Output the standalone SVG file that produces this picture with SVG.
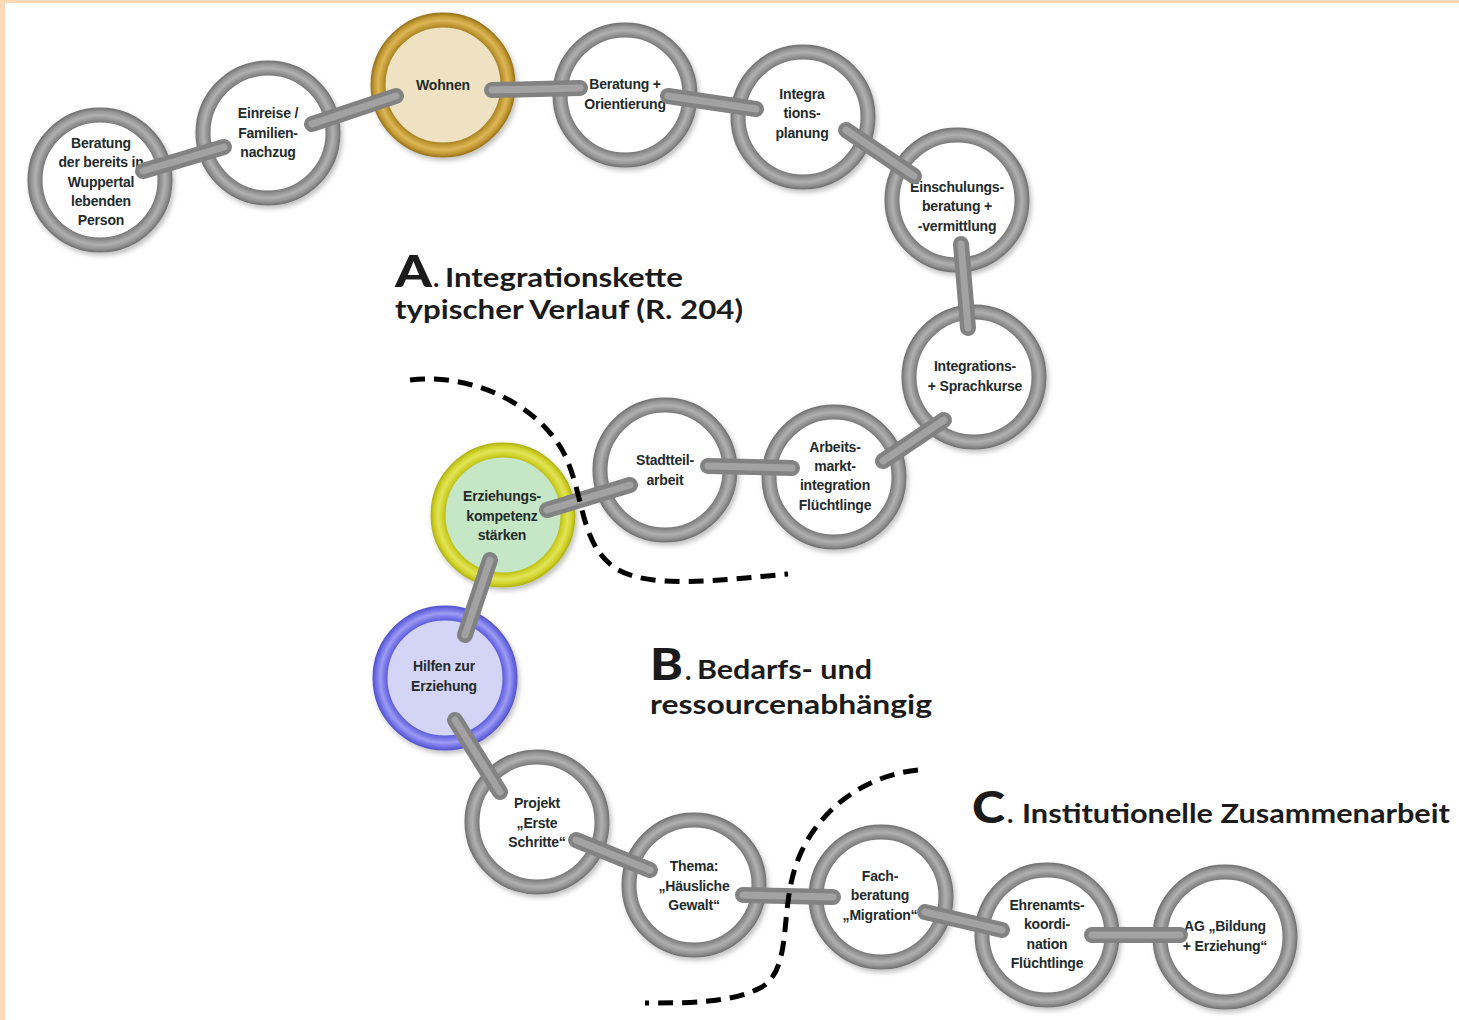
<svg xmlns="http://www.w3.org/2000/svg" width="1459" height="1020" viewBox="0 0 1459 1020">
<defs>
  <radialGradient id="gGray" cx="0.5" cy="0.5" r="0.6">
    <stop offset="0.72" stop-color="#6c6c6c"/>
    <stop offset="0.77" stop-color="#8c8c8c"/>
    <stop offset="0.83" stop-color="#b0b0b0"/>
    <stop offset="0.88" stop-color="#979797"/>
    <stop offset="0.93" stop-color="#6e6e6e"/>
  </radialGradient>
  <radialGradient id="gGold" cx="0.5" cy="0.5" r="0.6">
    <stop offset="0.72" stop-color="#96731c"/>
    <stop offset="0.77" stop-color="#bf9630"/>
    <stop offset="0.83" stop-color="#dcb757"/>
    <stop offset="0.88" stop-color="#c59c36"/>
    <stop offset="0.93" stop-color="#94711a"/>
  </radialGradient>
  <radialGradient id="gYellow" cx="0.5" cy="0.5" r="0.6">
    <stop offset="0.72" stop-color="#b0b214"/>
    <stop offset="0.77" stop-color="#cfd126"/>
    <stop offset="0.83" stop-color="#e2e35a"/>
    <stop offset="0.88" stop-color="#d2d42a"/>
    <stop offset="0.93" stop-color="#adaf12"/>
  </radialGradient>
  <radialGradient id="gBlue" cx="0.5" cy="0.5" r="0.6">
    <stop offset="0.72" stop-color="#5252cf"/>
    <stop offset="0.77" stop-color="#7070e6"/>
    <stop offset="0.83" stop-color="#9c9cf3"/>
    <stop offset="0.88" stop-color="#7474e8"/>
    <stop offset="0.93" stop-color="#5050cc"/>
  </radialGradient>
  <filter id="sh" x="-20%" y="-20%" width="140%" height="140%">
    <feDropShadow dx="2" dy="3" stdDeviation="2.5" flood-color="#000" flood-opacity="0.25"/>
  </filter>
  <style>
    .ring { stroke-width: 15; filter: url(#sh); }
    .gray { fill: #ffffff; stroke: url(#gGray); }
    .gold { fill: #efe2c3; stroke: url(#gGold); }
    .yellow { fill: #c6e7c5; stroke: url(#gYellow); }
    .blue { fill: #d4d4f7; stroke: url(#gBlue); }
    .lbl { font-family: "Liberation Sans", Arial, sans-serif; font-weight: bold; font-size: 14px; fill: #232a2a; text-anchor: middle; letter-spacing: -0.2px; }
    .bar { fill: none; stroke: #828282; stroke-width: 16; stroke-linecap: round; }
    .barhi { fill: none; stroke: #a2a2a2; stroke-width: 7; stroke-linecap: round; }
    .sep { fill: none; stroke: #000; stroke-width: 5; stroke-dasharray: 15 9; }
    .big { font-family: Lato, "Open Sans", sans-serif; font-weight: 900; font-size: 44px; fill: #1b1b1b; }
    .ttl { font-family: Lato, "Open Sans", sans-serif; font-weight: bold; font-size: 27px; fill: #1b1b1b; }
  </style>
</defs>
<rect x="0" y="0" width="1459" height="1020" fill="#ffffff"/>
<rect x="0" y="0" width="1459" height="3" fill="#fdd8b6"/>
<rect x="0" y="0" width="5" height="1020" fill="#fdd8b6"/>

<g id="nodes">
  <g id="n1"><circle class="ring gray" cx="100" cy="180" r="65"/>
    <text class="lbl" x="101" y="148"><tspan x="101">Beratung</tspan><tspan x="101" dy="19.3">der bereits in</tspan><tspan x="101" dy="19.3">Wuppertal</tspan><tspan x="101" dy="19.3">lebenden</tspan><tspan x="101" dy="19.3">Person</tspan></text></g>
  <g id="n2"><circle class="ring gray" cx="268" cy="133" r="65"/>
    <text class="lbl" x="268" y="118"><tspan x="268">Einreise /</tspan><tspan x="268" dy="19.5">Familien-</tspan><tspan x="268" dy="19.5">nachzug</tspan></text></g>
  <g id="n3"><circle class="ring gold" cx="443" cy="85" r="65"/>
    <text class="lbl" x="443" y="90">Wohnen</text></g>
  <g id="n4"><circle class="ring gray" cx="625" cy="95" r="65"/>
    <text class="lbl" x="625" y="89"><tspan x="625">Beratung +</tspan><tspan x="625" dy="19.5">Orientierung</tspan></text></g>
  <g id="n5"><circle class="ring gray" cx="803" cy="117" r="65"/>
    <text class="lbl" x="802" y="99"><tspan x="802">Integra</tspan><tspan x="802" dy="19.3">tions-</tspan><tspan x="802" dy="19.3">planung</tspan></text></g>
  <g id="n6"><circle class="ring gray" cx="957" cy="200" r="65"/>
    <text class="lbl" x="957" y="192"><tspan x="957">Einschulungs-</tspan><tspan x="957" dy="19.3">beratung +</tspan><tspan x="957" dy="19.3">-vermittlung</tspan></text></g>
  <g id="n7"><circle class="ring gray" cx="974" cy="377" r="65"/>
    <text class="lbl" x="975" y="371"><tspan x="975">Integrations-</tspan><tspan x="975" dy="19.5">+ Sprachkurse</tspan></text></g>
  <g id="n8"><circle class="ring gray" cx="834" cy="477" r="65"/>
    <text class="lbl" x="835" y="452"><tspan x="835">Arbeits-</tspan><tspan x="835" dy="19.2">markt-</tspan><tspan x="835" dy="19.2">integration</tspan><tspan x="835" dy="19.2">Flüchtlinge</tspan></text></g>
  <g id="n9"><circle class="ring gray" cx="665" cy="470" r="65"/>
    <text class="lbl" x="665" y="465"><tspan x="665">Stadtteil-</tspan><tspan x="665" dy="19.5">arbeit</tspan></text></g>
  <g id="n10"><circle class="ring yellow" cx="503" cy="515" r="65"/>
    <text class="lbl" x="502" y="501"><tspan x="502">Erziehungs-</tspan><tspan x="502" dy="19.5">kompetenz</tspan><tspan x="502" dy="19.5">stärken</tspan></text></g>
  <g id="n11"><circle class="ring blue" cx="445" cy="678" r="65"/>
    <text class="lbl" x="444" y="671"><tspan x="444">Hilfen zur</tspan><tspan x="444" dy="19.5">Erziehung</tspan></text></g>
  <g id="n12"><circle class="ring gray" cx="537" cy="822" r="65"/>
    <text class="lbl" x="537" y="808"><tspan x="537">Projekt</tspan><tspan x="537" dy="19.5">„Erste</tspan><tspan x="537" dy="19.5">Schritte“</tspan></text></g>
  <g id="n13"><circle class="ring gray" cx="694" cy="885" r="65"/>
    <text class="lbl" x="694" y="871"><tspan x="694">Thema:</tspan><tspan x="694" dy="19.5">„Häusliche</tspan><tspan x="694" dy="19.5">Gewalt“</tspan></text></g>
  <g id="n14"><circle class="ring gray" cx="881" cy="897" r="65"/>
    <text class="lbl" x="880" y="881"><tspan x="880">Fach-</tspan><tspan x="880" dy="19.3">beratung</tspan><tspan x="880" dy="19.3">„Migration“</tspan></text></g>
  <g id="n15"><circle class="ring gray" cx="1047" cy="935" r="65"/>
    <text class="lbl" x="1047" y="910"><tspan x="1047">Ehrenamts-</tspan><tspan x="1047" dy="19.3">koordi-</tspan><tspan x="1047" dy="19.3">nation</tspan><tspan x="1047" dy="19.3">Flüchtlinge</tspan></text></g>
  <g id="n16"><circle class="ring gray" cx="1225" cy="937" r="65"/>
    <text class="lbl" x="1225" y="931"><tspan x="1225">AG „Bildung</tspan><tspan x="1225" dy="19.5">+ Erziehung“</tspan></text></g>
</g>

<g id="connectors">
  <g class="bar">
    <line x1="143" y1="171" x2="224" y2="147"/>
    <line x1="312" y1="124" x2="396" y2="96"/>
    <line x1="492" y1="90" x2="580" y2="88"/>
    <line x1="668" y1="96" x2="756" y2="109"/>
    <line x1="846" y1="130" x2="914" y2="176"/>
    <line x1="961" y1="244" x2="968" y2="328"/>
    <line x1="944" y1="420" x2="883" y2="461"/>
    <line x1="708" y1="466" x2="792" y2="468"/>
    <line x1="547" y1="510" x2="630" y2="485"/>
    <line x1="490" y1="560" x2="465" y2="635"/>
    <line x1="455" y1="720" x2="500" y2="792"/>
    <line x1="576" y1="840" x2="650" y2="870"/>
    <line x1="743" y1="895" x2="833" y2="897"/>
    <line x1="925" y1="912" x2="1002" y2="930"/>
    <line x1="1092" y1="935" x2="1180" y2="935"/>
  </g>
  <g class="barhi">
    <line x1="143" y1="171" x2="224" y2="147"/>
    <line x1="312" y1="124" x2="396" y2="96"/>
    <line x1="492" y1="90" x2="580" y2="88"/>
    <line x1="668" y1="96" x2="756" y2="109"/>
    <line x1="846" y1="130" x2="914" y2="176"/>
    <line x1="961" y1="244" x2="968" y2="328"/>
    <line x1="944" y1="420" x2="883" y2="461"/>
    <line x1="708" y1="466" x2="792" y2="468"/>
    <line x1="547" y1="510" x2="630" y2="485"/>
    <line x1="490" y1="560" x2="465" y2="635"/>
    <line x1="455" y1="720" x2="500" y2="792"/>
    <line x1="576" y1="840" x2="650" y2="870"/>
    <line x1="743" y1="895" x2="833" y2="897"/>
    <line x1="925" y1="912" x2="1002" y2="930"/>
    <line x1="1092" y1="935" x2="1180" y2="935"/>
  </g>
</g>

<g id="separators">
  <path class="sep" d="M410,380 C480,372 548,412 568,462 C584,502 582,545 615,568 C650,590 720,580 788,574"/>
  <path class="sep" d="M918,770 C860,776 812,815 795,868 C780,915 792,968 762,987 C732,1003 690,1003 645,1003"/>
</g>

<g id="titles">
  <text class="big" x="395" y="287" textLength="37" lengthAdjust="spacingAndGlyphs">A</text>
  <text class="ttl" x="433" y="287">.</text>
  <text class="ttl" x="445" y="287" textLength="238" lengthAdjust="spacingAndGlyphs">Integrationskette</text>
  <text class="ttl" x="395" y="319" textLength="348" lengthAdjust="spacingAndGlyphs">typischer Verlauf (R. 204)</text>

  <text class="big" x="650" y="680" textLength="33" lengthAdjust="spacingAndGlyphs">B</text>
  <text class="ttl" x="685" y="680">.</text>
  <text class="ttl" x="697" y="679" textLength="175" lengthAdjust="spacingAndGlyphs">Bedarfs- und</text>
  <text class="ttl" x="650" y="714" textLength="282" lengthAdjust="spacingAndGlyphs">ressourcenabhängig</text>

  <text class="big" x="972" y="823" textLength="33" lengthAdjust="spacingAndGlyphs">C</text>
  <text class="ttl" x="1007" y="823">.</text>
  <text class="ttl" x="1022" y="823" textLength="428" lengthAdjust="spacingAndGlyphs">Institutionelle Zusammenarbeit</text>
</g>
</svg>
